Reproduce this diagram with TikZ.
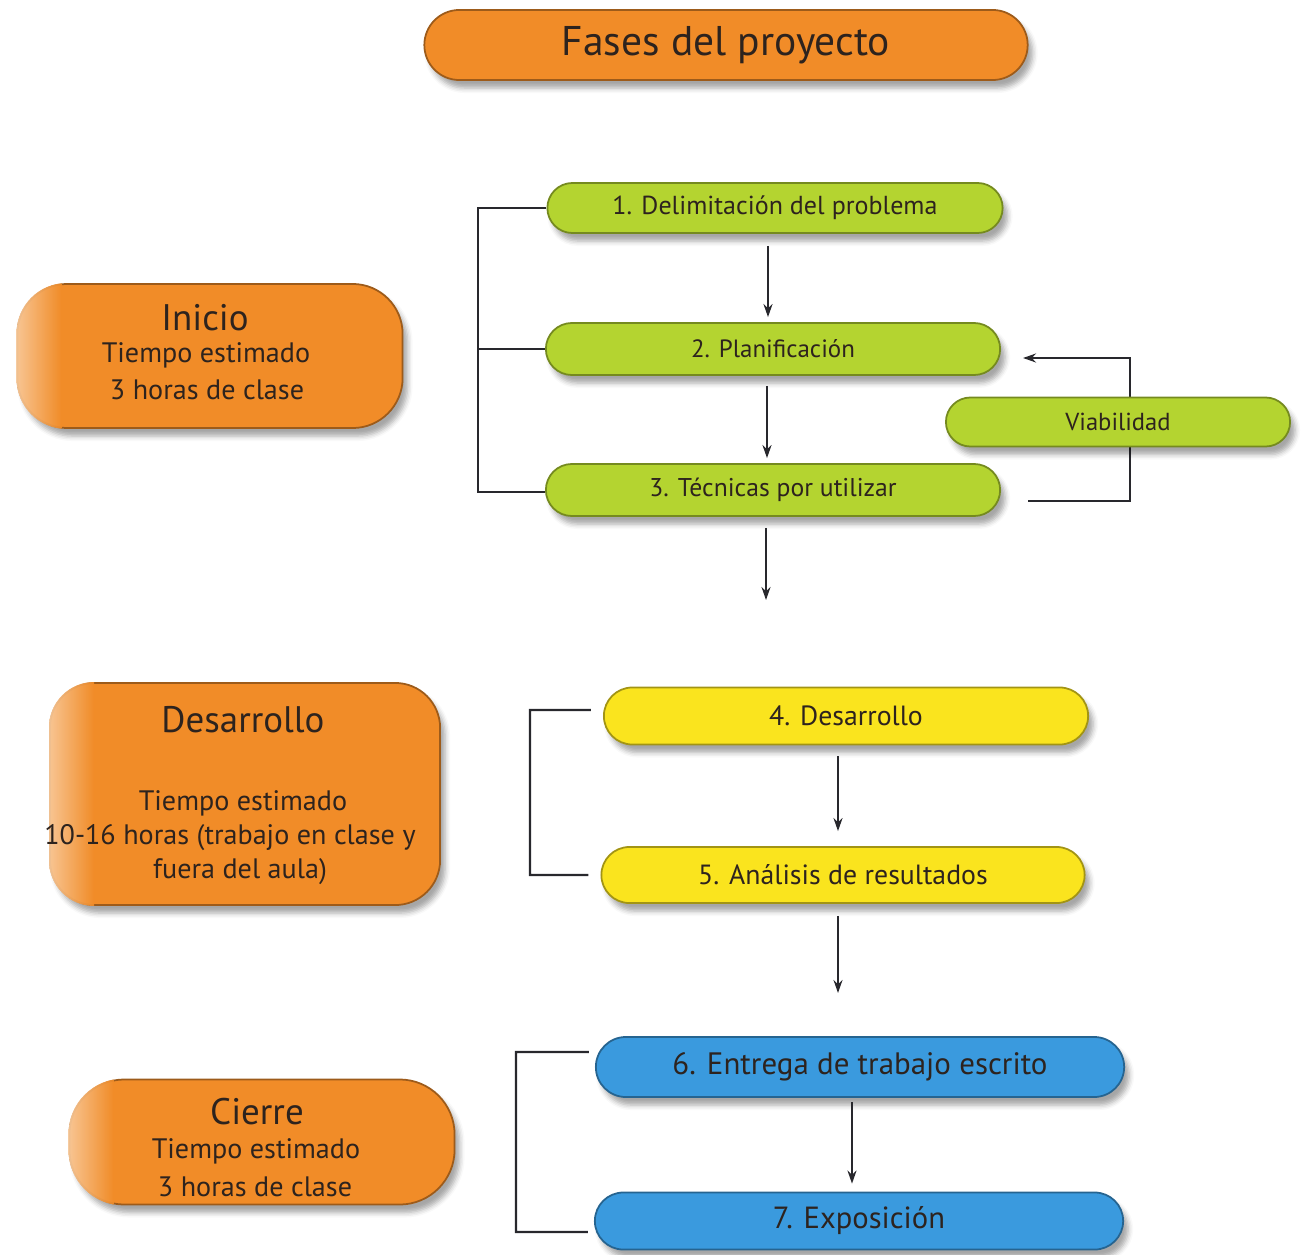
\documentclass[tikz,border=0pt]{standalone}
\usepackage{fontspec}
\setmainfont{PT Sans}
\usetikzlibrary{shadows.blur,backgrounds,calc,arrows.meta}
\definecolor{orF}{RGB}{241,140,40}
\definecolor{grnF}{RGB}{180,212,48}
\definecolor{yelF}{RGB}{250,228,30}
\definecolor{bluF}{RGB}{58,154,222}
\definecolor{txt}{RGB}{45,35,30}
\definecolor{lnC}{RGB}{40,40,45}
\tikzset{
  box/.style={draw=#1!65!black, line width=0.5pt, fill=#1, inner sep=0pt, text=txt,
    blur shadow={shadow xshift=0.05cm, shadow yshift=-0.08cm, shadow blur radius=0.05cm, shadow opacity=35}},
  lbl/.style={text=txt, inner sep=0pt},
  conn/.style={draw=lnC, line width=0.6pt},
  arr/.style={conn, -{Stealth[length=0.13cm, width=0.09cm]}},
  fadeL/.style={left color=orF!45!white, right color=orF, opacity=0.9},
}
\begin{document}
\begin{tikzpicture}[x=0.01cm, y=-0.01cm]
\useasboundingbox (0,0) rectangle (1303,1255);

% title
\node[box=orF, minimum width=6.03cm, minimum height=0.70cm, rounded corners=0.35cm,
  font=\fontsize{11.8}{13}\selectfont] (title) at (726,45) {Fases del proyecto};

% left phase boxes
\node[box=orF, minimum width=3.85cm, minimum height=1.44cm, rounded corners=0.5cm] (inicio) at (210,356) {};
\begin{scope}
  \clip[rounded corners=0.5cm] (inicio.south west) rectangle (inicio.north east);
  \shade[fadeL] (inicio.south west) rectangle ([xshift=0.45cm]inicio.north west);
\end{scope}
\node[lbl, font=\fontsize{10.5}{12}\selectfont] (inicioT) at (205,318) {Inicio};
\node[lbl, font=\fontsize{8}{9}\selectfont] (inicioA) at (206,355) {Tiempo estimado};
\node[lbl, font=\fontsize{8}{9}\selectfont] (inicioB) at (207,390) {3 horas de clase};

\node[box=orF, minimum width=3.90cm, minimum height=2.22cm, rounded corners=0.45cm] (desa) at (245,794) {};
\begin{scope}
  \clip[rounded corners=0.45cm] (desa.south west) rectangle (desa.north east);
  \shade[fadeL] (desa.south west) rectangle ([xshift=0.45cm]desa.north west);
\end{scope}
\node[lbl, font=\fontsize{10.5}{12}\selectfont] (desaT) at (243,720) {Desarrollo};
\node[lbl, font=\fontsize{8}{9}\selectfont] (desaA) at (243,803) {Tiempo estimado};
\node[lbl, font=\fontsize{8}{9}\selectfont] (desaB) at (230,838) {10-16 horas (trabajo en clase y};
\node[lbl, font=\fontsize{8}{9}\selectfont] (desaC) at (240,872) {fuera del aula)};

\node[box=orF, minimum width=3.85cm, minimum height=1.25cm, rounded corners=0.55cm] (cierre) at (262,1142) {};
\begin{scope}
  \clip[rounded corners=0.55cm] (cierre.south west) rectangle (cierre.north east);
  \shade[fadeL] (cierre.south west) rectangle ([xshift=0.45cm]cierre.north west);
\end{scope}
\node[lbl, font=\fontsize{10.5}{12}\selectfont] (cierreT) at (257,1112) {Cierre};
\node[lbl, font=\fontsize{8}{9}\selectfont] (cierreA) at (256,1151) {Tiempo estimado};
\node[lbl, font=\fontsize{8}{9}\selectfont] (cierreB) at (255,1187) {3 horas de clase};

% green steps
\node[box=grnF, minimum width=4.55cm, minimum height=0.50cm, rounded corners=0.25cm,
  font=\fontsize{7.4}{8}\selectfont] (g1) at (775,208) {1. Delimitación del problema};
\node[box=grnF, minimum width=4.54cm, minimum height=0.52cm, rounded corners=0.26cm,
  font=\fontsize{7.1}{8}\selectfont] (g2) at (773,349) {2. Planificación};
\node[box=grnF, minimum width=4.54cm, minimum height=0.52cm, rounded corners=0.26cm,
  font=\fontsize{7.3}{8}\selectfont] (g3) at (773,490) {3. Técnicas por utilizar};

% feedback loop (drawn before the Viabilidad box, which covers it)
\coordinate (vx) at (1130,0);
\coordinate (t2) at ([shift={(22,9)}]g2.east);
\coordinate (s3) at ([shift={(27,11)}]g3.east);
\draw[arr] (s3) -| (vx |- t2) -- (t2);

\node[box=grnF, minimum width=3.44cm, minimum height=0.49cm, rounded corners=0.245cm,
  font=\fontsize{7}{8}\selectfont] (via) at (1118,422) {Viabilidad};

% yellow steps
\node[box=yelF, minimum width=4.84cm, minimum height=0.57cm, rounded corners=0.285cm,
  font=\fontsize{7.9}{9}\selectfont] (y4) at (846,716) {4. Desarrollo};
\node[box=yelF, minimum width=4.83cm, minimum height=0.56cm, rounded corners=0.28cm,
  font=\fontsize{7.9}{9}\selectfont] (y5) at (843,875) {5. Análisis de resultados};

% blue steps
\node[box=bluF, minimum width=5.28cm, minimum height=0.60cm, rounded corners=0.30cm,
  font=\fontsize{8.8}{10}\selectfont] (b6) at (860,1067) {6. Entrega de trabajo escrito};
\node[box=bluF, minimum width=5.28cm, minimum height=0.57cm, rounded corners=0.285cm,
  font=\fontsize{8.7}{10}\selectfont] (b7) at (859,1221) {7. Exposición};

% helper coordinates
\coordinate (gx) at (478,0);
\coordinate (yx) at (530,0);
\coordinate (bx) at (516,0);
\coordinate (c3) at (766,600);
\coordinate (c5) at (838,993);

% brackets
\draw[conn] (g1.west) -- (g1.west -| gx) -- ([yshift=-0.02cm]g3.west -| gx) -- ([yshift=-0.02cm]g3.west);
\draw[conn] (g2.west -| gx) -- (g2.west);
\draw[conn] ([shift={(-12,-6)}]y4.west) -- ([yshift=0.06cm]y4.west -| yx) -- (y5.west -| yx) -- ([shift={(-12,0)}]y5.west);
\draw[conn] ([shift={(-6,-15)}]b6.west) -- ([yshift=0.15cm]b6.west -| bx) -- ([yshift=-0.11cm]b7.west -| bx) -- ([shift={(-6,11)}]b7.west);

% vertical arrows
\draw[arr, shorten <=0.12cm, shorten >=0.05cm] (g1.south -| 768,0) -- (g2.north -| 768,0);
\draw[arr, shorten <=0.10cm, shorten >=0.05cm] (g2.south -| 767,0) -- (g3.north -| 767,0);
\draw[arr, shorten <=0.11cm] (g3.south -| c3) -- (c3);
\draw[arr, shorten <=0.11cm, shorten >=0.15cm] (y4.south -| 838,0) -- (y5.north -| 838,0);
\draw[arr, shorten <=0.12cm] (y5.south -| c5) -- (c5);
\draw[arr, shorten <=0.04cm, shorten >=0.08cm] (b6.south -| 852,0) -- (b7.north -| 852,0);
\end{tikzpicture}
\end{document}
